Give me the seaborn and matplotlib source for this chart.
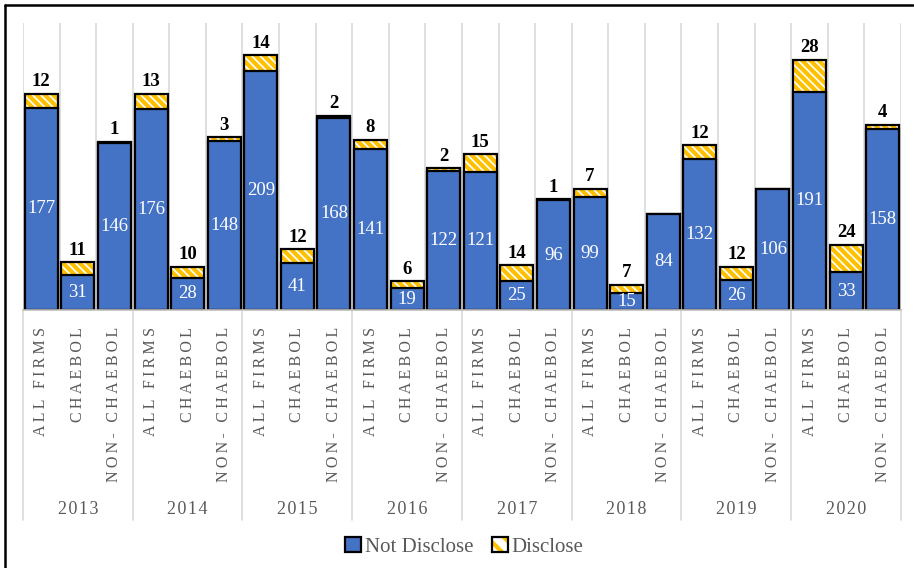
import matplotlib
matplotlib.use("Agg")
import matplotlib.pyplot as plt
import matplotlib.patches as mpatches
from matplotlib.lines import Line2D
from matplotlib.legend_handler import HandlerTuple
import matplotlib.transforms as mtransforms
import numpy as np
import pandas as pd
import seaborn as sns

years = ["2013", "2014", "2015", "2016", "2017", "2018", "2019", "2020"]
groups = ["ALL FIRMS", "CHAEBOL", "NON- CHAEBOL"]
not_disclose = [177, 31, 146,
                176, 28, 148,
                209, 41, 168,
                141, 19, 122,
                121, 25, 96,
                99, 15, 84,
                132, 26, 106,
                191, 33, 158]
disclose = [12, 11, 1,
            13, 10, 3,
            14, 12, 2,
            8, 6, 2,
            15, 14, 1,
            7, 7, 0,
            12, 12, 0,
            28, 24, 4]

sns.set_theme(style="white")
plt.rcParams["font.family"] = ["Liberation Serif", "DejaVu Serif"]
plt.rcParams["hatch.linewidth"] = 3.0

BLUE = "#4472C4"
GOLD = "#FFC000"
GRID = "#D9D9D9"
LABEL_GRAY = "#595959"


def tracked(s, gap="\u2009"):
    """Widen letter spacing of a label."""
    return gap.join(s)


keys = [f"{y}|{g}" for y in years for g in groups]
df = pd.DataFrame({
    "key": keys,
    "year": [y for y in years for _ in groups],
    "group": [g for _ in years for g in groups],
    "not_disclose": not_disclose,
    "disclose": disclose,
})
df["total"] = df["not_disclose"] + df["disclose"]

fig = plt.figure(figsize=(9.14, 5.68), dpi=100)
ax = fig.add_axes([23 / 914, 1 - 310 / 568, (901 - 23) / 914, (310 - 23) / 568])

# vertical separators between categories
for k in range(len(keys) + 1):
    ax.axvline(k - 0.5, color=GRID, lw=1.2, zorder=0)

# stacked total (hatched disclose part shows above the blue part)
sns.barplot(data=df, x="key", y="total", order=keys, ax=ax, width=0.9,
            color="white", edgecolor=GOLD, linewidth=0, hatch="\\\\\\\\",
            errorbar=None, zorder=2)
sns.barplot(data=df, x="key", y="total", order=keys, ax=ax, width=0.9,
            fill=False, edgecolor="black", linewidth=1.6,
            errorbar=None, zorder=3)
sns.barplot(data=df, x="key", y="not_disclose", order=keys, ax=ax, width=0.9,
            color=BLUE, saturation=1, edgecolor="black", linewidth=1.6,
            errorbar=None, zorder=4)

# value labels
for i, row in df.iterrows():
    ax.text(i, row["not_disclose"] / 2, f"{row['not_disclose']}",
            ha="center", va="center", color="white", fontsize=13.5, zorder=6)
    if row["disclose"] > 0:
        ax.text(i, row["total"] + 3, f"{row['disclose']}",
                ha="center", va="bottom", color="black", fontsize=13.5,
                fontweight="bold", zorder=6)

ax.set_xlim(-0.5, len(keys) - 0.5)
ax.set_ylim(0, 251)
ax.set_yticks([])
ax.set_xlabel("")
ax.set_ylabel("")
for s in ["top", "left", "right"]:
    ax.spines[s].set_visible(False)
ax.spines["bottom"].set_color("#BFBFBF")
ax.spines["bottom"].set_linewidth(1.2)
ax.spines["bottom"].set_zorder(5)

ax.set_xticks(range(len(keys)))
ax.set_xticklabels([tracked(g) for g in df["group"]], rotation=90,
                   fontsize=11.5, color=LABEL_GRAY)
ax.tick_params(axis="x", length=0, pad=12)

# year labels and year separators below the axis
trans = mtransforms.blended_transform_factory(ax.transData, ax.transAxes)
for j, y in enumerate(years):
    ax.text(3 * j + 1, -0.695, tracked(y, "\u200a"), transform=trans,
            ha="center", va="center", fontsize=13, color=LABEL_GRAY, clip_on=False)
for j in range(len(years) + 1):
    ax.plot([3 * j - 0.5, 3 * j - 0.5], [0, -0.732], transform=trans,
            color=GRID, lw=1.2, clip_on=False)

nd_handle = mpatches.Patch(facecolor=BLUE, edgecolor="black", linewidth=1.6)
d_fill = mpatches.Patch(facecolor="white", edgecolor=GOLD, hatch="\\\\", linewidth=0)
d_edge = mpatches.Patch(facecolor="none", edgecolor="black", linewidth=1.6)
leg = fig.legend(handles=[nd_handle, (d_fill, d_edge)],
                 labels=["Not Disclose", "Disclose"],
                 handler_map={tuple: HandlerTuple(ndivide=1, pad=0)},
                 loc="center", bbox_to_anchor=(0.508, 1 - 547 / 568),
                 ncol=2, frameon=False, fontsize=15, handlelength=0.75,
                 handleheight=0.75, handletextpad=0.2, columnspacing=0.9)
for t in leg.get_texts():
    t.set_color(LABEL_GRAY)

# outer frame lines along the top and left edges
fig.add_artist(Line2D([5 / 914, 913 / 914], [1 - 5 / 568, 1 - 5 / 568],
                      transform=fig.transFigure, color="black", lw=1.8))
fig.add_artist(Line2D([5 / 914, 5 / 914], [0, 1 - 5 / 568],
                      transform=fig.transFigure, color="black", lw=1.8))

fig.savefig("out.png", dpi=100)
